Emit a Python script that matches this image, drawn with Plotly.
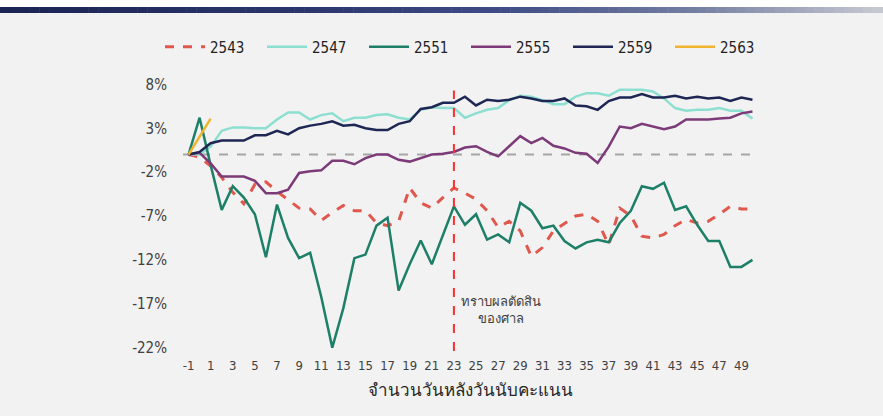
import plotly.graph_objects as go

days = list(range(-1, 51))

s2543 = [0, -0.3, -1.3, -2.6, -4.3, -5.6, -3.4, -3.1, -4.2, -5.2, -6.1, -6.2, -7.5, -6.6,
         -5.8, -6.4, -6.4, -7.8, -8.1, -7.6, -3.8, -5.5, -6.1, -4.9, -3.8, -4.4, -5.1, -6.4,
         -8.3, -7.6, -8.7, -11.6, -10.6, -8.7, -7.8, -7.0, -6.8, -7.6, -10.3, -6.1, -7.0,
         -9.3, -9.5, -9.1, -8.1, -7.4, -7.8, -7.6, -6.8, -5.9, -6.2, -6.2]
s2547 = [0, 0, 0.9, 2.7, 3.1, 3.1, 3.0, 3.0, 4.0, 4.8, 4.8, 4.0, 4.5, 4.7, 3.8, 4.2, 4.2,
         4.5, 4.6, 4.2, 4.0, 5.1, 5.4, 5.3, 5.3, 4.2, 4.7, 5.1, 5.3, 6.2, 6.7, 6.6, 6.2,
         5.75, 5.75, 6.6, 7.0, 7.0, 6.7, 7.4, 7.4, 7.4, 7.2, 6.4, 5.3, 5.0, 5.1, 5.1, 5.3,
         5.0, 5.0, 4.1]
s2551 = [0, 4.2, -1.2, -6.3, -3.6, -4.9, -6.8, -11.7, -5.7, -9.5, -11.8, -11.2, -16.2,
         -22.0, -17.5, -11.8, -11.4, -8.1, -7.2, -15.5, -12.5, -9.8, -12.5, -9.2, -5.9,
         -8.0, -6.8, -9.7, -9.1, -10.0, -5.5, -6.4, -8.4, -8.1, -9.85, -10.7, -10.0, -9.7,
         -10.0, -7.8, -6.4, -3.6, -3.9, -3.2, -6.3, -5.9, -8.0, -9.85, -9.85, -12.8, -12.8,
         -12.0]
s2555 = [0, 0.2, -1.0, -2.5, -2.5, -2.5, -3.0, -4.4, -4.4, -4.0, -2.1, -1.9, -1.8, -0.7,
         -0.7, -1.1, -0.4, 0, 0, -0.6, -0.8, -0.4, 0, 0.1, 0.3, 0.8, 0.95, 0.3, -0.2, 0.95,
         2.1, 1.3, 1.9, 1.0, 0.7, 0.2, 0.1, -0.95, 0.9, 3.2, 3.0, 3.5, 3.2, 2.9, 3.2, 4.0,
         4.0, 4.0, 4.1, 4.2, 4.7, 4.9]
s2559 = [0, 0.3, 1.3, 1.6, 1.6, 1.6, 2.2, 2.2, 2.7, 2.3, 3.0, 3.3, 3.5, 3.8, 3.3, 3.4, 3.0,
         2.8, 2.8, 3.5, 3.8, 5.2, 5.4, 5.9, 5.9, 6.6, 5.6, 6.25, 6.1, 6.25, 6.6, 6.4, 6.1,
         6.1, 6.4, 5.6, 5.5, 5.1, 6.1, 6.5, 6.5, 6.9, 6.5, 6.5, 6.7, 6.4, 6.6, 6.4, 6.5,
         6.1, 6.5, 6.25]
days2563 = [-1, 0, 1]
s2563 = [0, 2.0, 4.1]

court_day = 23
court_label = "ทราบผลตัดสิน<br>ของศาล"
x_title = "จำนวนวันหลังวันนับคะแนน"
x_ticks = list(range(-1, 50, 2))
x_ticktext = [str(v) for v in x_ticks]
y_ticks = [8, 3, -2, -7, -12, -17, -22]
y_ticktext = [f"{v}%" for v in y_ticks]

W, H = 883, 416
ML, MR, MT, MB = 183, 125, 80, 64
PW, PH = W - ML - MR, H - MT - MB

def px(xp):
    return (xp - ML) / PW

def py(yp):
    return (H - MB - yp) / PH

NARROW = "Liberation Sans Narrow, DejaVu Sans Condensed, sans-serif"

fig = go.Figure()
series = [
    ("2543", days, s2543, "#e0584d", "dash", 3),
    ("2547", days, s2547, "#8ddfd1", "solid", 2.5),
    ("2551", days, s2551, "#1d7f67", "solid", 2.5),
    ("2555", days, s2555, "#7c3a78", "solid", 2.5),
    ("2559", days, s2559, "#1e2654", "solid", 2.5),
    ("2563", days2563, s2563, "#f0b52e", "solid", 2.5),
]
for name, xs, ys, col, dash, w in series:
    fig.add_trace(go.Scatter(x=xs, y=ys, name=name, mode="lines",
                             line=dict(color=col, width=w, dash=dash)))

shapes = []
shapes.append(dict(type="rect", xref="paper", yref="paper", x0=px(0), x1=px(W),
                   y0=py(7), y1=py(0), fillcolor="white", line=dict(width=0), layer="below"))
stops = [(0, (27, 36, 82)), (300, (42, 54, 108)), (500, (62, 76, 134)),
         (700, (118, 128, 163)), (883, (200, 202, 210))]
n = 90
for i in range(n):
    x0 = W * i / n
    x1 = W * (i + 1) / n + 0.5
    xm = (x0 + x1) / 2
    for j in range(len(stops) - 1):
        if stops[j][0] <= xm <= stops[j + 1][0]:
            t = (xm - stops[j][0]) / (stops[j + 1][0] - stops[j][0])
            c = [round(stops[j][1][k] + t * (stops[j + 1][1][k] - stops[j][1][k])) for k in range(3)]
            break
    shapes.append(dict(type="rect", xref="paper", yref="paper", x0=px(x0), x1=px(x1),
                       y0=py(13), y1=py(7), fillcolor=f"rgb({c[0]},{c[1]},{c[2]})",
                       line=dict(width=0), layer="below"))
shapes.append(dict(type="line", xref="paper", yref="y", x0=0, x1=1, y0=0, y1=0,
                   line=dict(color="#a6a6a6", width=2, dash="dash"), layer="below"))
shapes.append(dict(type="line", xref="x", yref="y", x0=court_day, x1=court_day,
                   y0=-22.4, y1=7.3, line=dict(color="#ff2e2e", width=2, dash="dash")))

fig.update_layout(
    width=W, height=H,
    margin=dict(l=ML, r=MR, t=MT, b=MB, autoexpand=False),
    paper_bgcolor="#f2f2f2", plot_bgcolor="#f2f2f2",
    shapes=shapes,
    showlegend=True,
    legend=dict(orientation="h", x=px(160), xanchor="left", y=py(47), yanchor="middle",
                entrywidth=47, entrywidthmode="pixels", bgcolor="rgba(0,0,0,0)",
                font=dict(family=NARROW, size=15, color="#222222"),
                itemwidth=40, tracegroupgap=0),
    font=dict(family="Tahoma, DejaVu Sans, sans-serif", color="#404040"),
    annotations=[dict(x=court_day + 4.3, y=-17.7, xref="x", yref="y", text=court_label,
                      showarrow=False, align="center",
                      font=dict(size=13, color="#404040"))],
)
fig.update_xaxes(range=[-1.5, 50.5], tickmode="array", tickvals=x_ticks, ticktext=x_ticktext,
                 showgrid=False, zeroline=False, showline=False, ticks="",
                 tickfont=dict(size=13, color="#404040", family=NARROW),
                 ticklabelstandoff=4,
                 title=dict(text=x_title, standoff=12,
                            font=dict(size=17, color="#262626")))
fig.update_yaxes(range=[-22.5, 8.5], tickmode="array", tickvals=y_ticks, ticktext=y_ticktext,
                 showgrid=False, zeroline=False, showline=False, ticks="",
                 tickfont=dict(size=15, color="#404040", family=NARROW),
                 ticklabelstandoff=15)

fig.write_html("out.html", config={"displayModeBar": False},
               post_script="document.body.style.margin='0px';document.body.style.padding='0px';")
